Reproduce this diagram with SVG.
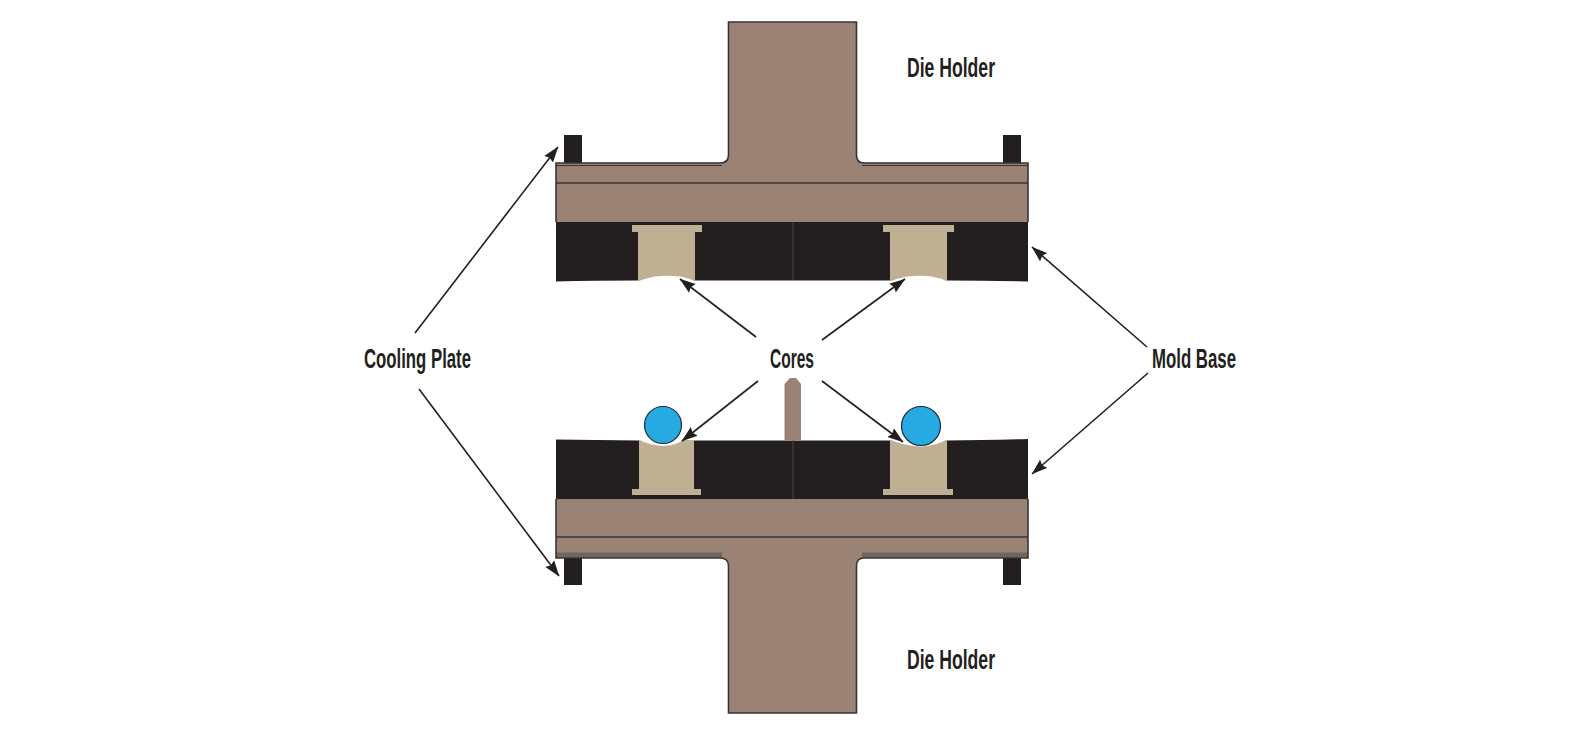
<svg xmlns="http://www.w3.org/2000/svg" width="1590" height="735" viewBox="0 0 1590 735">
<style>
.steel{fill:#9a8374}
.outline{fill:none;stroke:#3a3335;stroke-width:1.6}
.black{fill:#231f20}
.tan{fill:#bfb094}
.seam{stroke:#4d4648;stroke-width:1;fill:none}
.ball{fill:#27aae1;stroke:#1f2a44;stroke-width:1.2}
.gap{fill:#fff}
.lbl{font-family:"Liberation Sans",Arial,sans-serif;font-weight:bold;font-size:28px;fill:#231f20}
.arrow{stroke:#231f20;stroke-width:1.6;fill:none;marker-end:url(#head)}
</style>
<defs>
<marker id="head" markerUnits="userSpaceOnUse" markerWidth="16" markerHeight="12" refX="15.500" refY="6" orient="auto" viewBox="0 0 16 12">
<path d="M0 0.500L16 6L0 11.500L2 6Z" fill="#231f20"/>
</marker>
</defs>
<rect width="1590" height="735" fill="#fff"/>
<g id="top-mold-base">
<path class="black" d="M556 222H1028V281.500Q985 280.500 947 280.500H638Q595 280.500 556 281.500Z"/>
<path class="seam" d="M793 222V280"/>
</g>
<g id="top-bolts">
<rect class="black" x="564" y="135" width="18" height="29"/>
<rect class="black" x="1003" y="135" width="18" height="29"/>
</g>
<g id="top-die-holder">
<path class="steel" d="M728.500 22H856.500V155Q856.500 163 864 163H1028V222H556V163H720Q728.500 163 728.500 155Z"/>
<path class="outline" d="M556 222V163H720Q728.500 163 728.500 155V22H856.500V155Q856.500 163 864 163H1028V222"/>
<path d="M556 165.500H722M862 165.500H1028" stroke="#3a3335" stroke-width="1.2" fill="none"/>
<path d="M556 183H1028" stroke="#3a3335" stroke-width="1.6" fill="none"/>
</g>
<g id="top-core-left">
<path class="tan" d="M632 225H702V232H695V281H638V232H632Z"/>
<path class="gap" d="M637 282Q646 278 655 276.500Q668 275 680 276.500Q689 278 696 282Z"/>
</g>
<g id="top-core-right">
<path class="tan" d="M883 225H954V232H947V281H890V232H883Z"/>
<path class="gap" d="M889 282Q898 278 907 276.500Q920 275 932 276.500Q941 278 948 282Z"/>
</g>
<g id="bottom-mold-base">
<path class="black" d="M556 439.500Q595 440 639 440.500H947Q985 440 1028 439V499H556Z"/>
<path class="seam" d="M793 440V499"/>
</g>
<g id="bottom-bolts">
<rect class="black" x="564" y="556" width="18" height="29"/>
<rect class="black" x="1003" y="556" width="18" height="29"/>
</g>
<g id="bottom-die-holder">
<path class="steel" d="M556 499H1028V558H864Q856.500 558 856.500 566V713H728.500V566Q728.500 558 720 558H556Z"/>
<path d="M556 555H722M862 555H1028" stroke="#6f6660" stroke-width="5" fill="none"/>
<path class="outline" d="M556 499V558H720Q728.500 558 728.500 566V713H856.500V566Q856.500 558 864 558H1028V499"/>
<path d="M556 537H1028" stroke="#4d4648" stroke-width="2" fill="none"/>
</g>
<g id="bottom-core-left">
<path class="tan" d="M639 440H694V489H701V495H632V489H639Z"/>
<path class="gap" d="M638 439Q648 445 663 446Q676 446 684 439Z"/>
<circle class="ball" cx="663" cy="425" r="18.500"/>
</g>
<g id="bottom-core-right">
<path class="tan" d="M890 440H947V489H953V495H883V489H890Z"/>
<path class="gap" d="M889 439Q903 446 921 446.500Q936 446 948 439Z"/>
<circle class="ball" cx="921" cy="426" r="19.500"/>
</g>
<g id="ejector-pin">
<path class="steel" d="M784.500 440V384L790 378H796L801 384V440Z"/>
</g>
<g id="connectors">
<path class="arrow" d="M415 333L558 147"/>
<path class="arrow" d="M419 389L559 576"/>
<path class="arrow" d="M1147 347L1032 247"/>
<path class="arrow" d="M1148 373L1032 474"/>
<path class="arrow" d="M756 337L680 279"/>
<path class="arrow" d="M822 340L905 279"/>
<path class="arrow" d="M758 381L682 441"/>
<path class="arrow" d="M822 381L903 442"/>
</g>
<g id="labels">
<text class="lbl" x="907" y="77" textLength="88" lengthAdjust="spacingAndGlyphs">Die Holder</text>
<text class="lbl" x="907" y="669" textLength="88" lengthAdjust="spacingAndGlyphs">Die Holder</text>
<text class="lbl" x="364" y="368" textLength="107" lengthAdjust="spacingAndGlyphs">Cooling Plate</text>
<text class="lbl" x="770" y="368" textLength="44" lengthAdjust="spacingAndGlyphs">Cores</text>
<text class="lbl" x="1152" y="368" textLength="84" lengthAdjust="spacingAndGlyphs">Mold Base</text>
</g>
</svg>
